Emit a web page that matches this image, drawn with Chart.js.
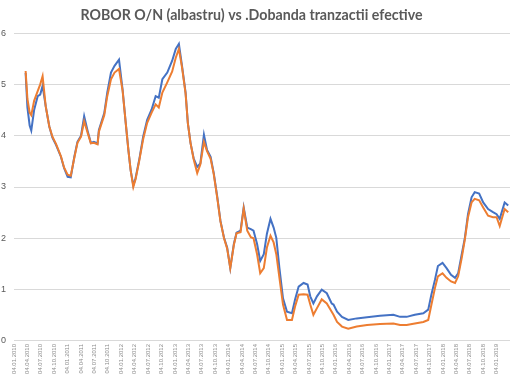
<!DOCTYPE html>
<html>
<head>
<meta charset="utf-8">
<script src="https://cdn.jsdelivr.net/npm/chart.js@4.4.1/dist/chart.umd.min.js"></script>
<style>
  html, body { margin: 0; padding: 0; background: #fff; overflow: hidden; }
  #wrap { position: absolute; left: -12px; top: 0; width: 522px; height: 380px; }
</style>
</head>
<body>
<div id="wrap"><canvas id="roborChart" width="522" height="380"></canvas></div>
<script>
const TITLE = 'ROBOR O/N (albastru) vs .Dobanda tranzactii efective';

// dates of the sampled points (dd.mm.yyyy)
const dates = [
    '22.03.2010','04.04.2010','19.04.2010','30.04.2010','19.05.2010','13.06.2010','30.06.2010','16.07.2010',
    '07.08.2010','31.08.2010','22.09.2010','16.10.2010','19.11.2010','10.12.2010','04.01.2011','25.01.2011',
    '19.02.2011','10.03.2011','04.04.2011','25.04.2011','22.05.2011','10.06.2011','30.06.2011','25.07.2011',
    '04.08.2011','10.09.2011','30.09.2011','25.10.2011','19.11.2011','19.12.2011','13.01.2012','04.02.2012',
    '22.02.2012','07.03.2012','25.03.2012','10.04.2012','04.05.2012','31.05.2012','28.06.2012','28.07.2012',
    '25.08.2012','16.09.2012','10.10.2012','13.11.2012','16.12.2012','10.01.2013','31.01.2013','22.02.2013',
    '16.03.2013','31.03.2013','19.04.2013','10.05.2013','04.06.2013','25.06.2013','19.07.2013','10.08.2013',
    '04.09.2013','25.09.2013','19.10.2013','10.11.2013','04.12.2013','25.12.2013','16.01.2014','10.02.2014',
    '28.02.2014','25.03.2014','16.04.2014','10.05.2014','04.06.2014','22.06.2014','16.07.2014','07.08.2014',
    '31.08.2014','22.09.2014','16.10.2014','07.11.2014','25.11.2014','16.12.2014','10.01.2015','07.02.2015',
    '10.03.2015','31.03.2015','25.04.2015','28.05.2015','25.06.2015','13.07.2015','04.08.2015','28.08.2015',
    '30.09.2015','04.11.2015','07.12.2015','19.12.2015','13.01.2016','16.02.2016','28.03.2016','25.05.2016',
    '04.08.2016','31.10.2016','31.01.2017','16.03.2017','30.04.2017','25.06.2017','22.08.2017','25.09.2017',
    '16.10.2017','10.11.2017','30.11.2017','31.12.2017','28.01.2018','28.02.2018','25.03.2018','16.04.2018',
    '10.05.2018','31.05.2018','22.06.2018','16.07.2018','07.08.2018','07.09.2018','04.10.2018','07.11.2018',
    '10.12.2018','04.01.2019','25.01.2019','28.02.2019','22.03.2019'
];

// ROBOR O/N (blue)
const robor = [
    5.22,4.55,4.20,4.10,4.50,4.77,4.80,4.97,
    4.57,4.18,3.96,3.82,3.59,3.37,3.20,3.19,
    3.59,3.88,4.00,4.38,4.05,3.86,3.88,3.85,
    4.11,4.44,4.84,5.23,5.36,5.48,4.90,4.25,
    3.72,3.33,3.03,3.17,3.52,3.98,4.31,4.51,
    4.77,4.74,5.10,5.23,5.46,5.69,5.79,5.36,
    4.84,4.25,3.86,3.56,3.39,3.46,4.02,3.72,
    3.59,3.27,2.80,2.34,2.01,1.82,1.42,1.89,
    2.11,2.15,2.60,2.21,2.18,2.15,1.89,1.56,
    1.69,2.09,2.38,2.21,2.01,1.42,0.83,0.57,
    0.54,0.81,1.06,1.13,1.10,0.87,0.73,0.87,
    1.00,0.93,0.73,0.71,0.57,0.47,0.41,0.44,
    0.46,0.49,0.51,0.47,0.47,0.51,0.54,0.61,
    0.90,1.19,1.46,1.52,1.42,1.29,1.23,1.32,
    1.69,2.01,2.47,2.80,2.90,2.87,2.70,2.57,
    2.51,2.47,2.38,2.70,2.64
];

// Dobanda tranzactii efective (orange)
const dobanda = [
    5.26,4.72,4.45,4.40,4.68,4.87,5.00,5.16,
    4.57,4.18,3.98,3.84,3.60,3.38,3.24,3.22,
    3.57,3.86,3.98,4.28,4.02,3.85,3.86,3.83,
    4.08,4.40,4.77,5.10,5.23,5.30,4.88,4.25,
    3.72,3.33,3.00,3.15,3.50,3.93,4.25,4.45,
    4.61,4.55,4.84,5.04,5.25,5.52,5.69,5.33,
    4.82,4.25,3.86,3.54,3.27,3.44,3.88,3.70,
    3.55,3.25,2.78,2.33,2.00,1.80,1.42,1.87,
    2.10,2.12,2.58,2.15,2.02,2.00,1.69,1.32,
    1.42,1.82,2.05,1.92,1.69,1.23,0.71,0.41,
    0.41,0.67,0.90,0.91,0.90,0.71,0.51,0.64,
    0.81,0.73,0.57,0.51,0.37,0.28,0.24,0.28,
    0.31,0.33,0.34,0.31,0.31,0.34,0.37,0.41,
    0.70,1.03,1.26,1.32,1.23,1.16,1.13,1.26,
    1.62,1.98,2.41,2.70,2.77,2.74,2.60,2.44,
    2.41,2.41,2.24,2.57,2.51
];

// quarterly axis labels
const tickLabels = [
    '04.01.2010','04.04.2010','04.07.2010','04.10.2010',
    '04.01.2011','04.04.2011','04.07.2011','04.10.2011',
    '04.01.2012','04.04.2012','04.07.2012','04.10.2012',
    '04.01.2013','04.04.2013','04.07.2013','04.10.2013',
    '04.01.2014','04.04.2014','04.07.2014','04.10.2014',
    '04.01.2015','04.04.2015','04.07.2015','04.10.2015',
    '04.01.2016','04.04.2016','04.07.2016','04.10.2016',
    '04.01.2017','04.04.2017','04.07.2017','04.10.2017',
    '04.01.2018','04.04.2018','04.07.2018','04.10.2018',
    '04.01.2019'
];
const AXIS_END = '04.04.2019';

// months since 04.01.2010
function toMonth(str) {
    const p = str.split('.');
    return (parseInt(p[2]) - 2010) * 12 + (parseInt(p[1]) - 1) + (parseInt(p[0]) - 4) / 30;
}

function toPoints(values) {
    return values.map((v, i) => ({ x: toMonth(dates[i]), y: v }));
}

const GRID = '#d9d9d9';
const TEXT = '#595959';

new Chart(document.getElementById('roborChart'), {
    type: 'line',
    data: {
        datasets: [
            {
                label: 'ROBOR O/N',
                data: toPoints(robor),
                borderColor: '#4472c4',
                borderWidth: 2,
                pointRadius: 0,
                order: 1
            },
            {
                label: 'Dobanda tranzactii efective',
                data: toPoints(dobanda),
                borderColor: '#ed7d31',
                borderWidth: 2,
                pointRadius: 0,
                order: 0
            }
        ]
    },
    options: {
        responsive: false,
        animation: false,
        layout: { padding: { left: 5, right: 0, top: 0, bottom: 3 } },
        plugins: {
            legend: { display: false },
            tooltip: { enabled: false },
            title: {
                display: true,
                text: TITLE,
                color: TEXT,
                font: { family: 'Lato', size: 14.2, weight: 'bold' },
                padding: { top: 7, bottom: 9 }
            }
        },
        scales: {
            x: {
                type: 'linear',
                min: 0,
                max: toMonth(AXIS_END),
                afterBuildTicks: (axis) => {
                    axis.ticks = tickLabels.map(l => ({ value: toMonth(l) }));
                },
                ticks: {
                    autoSkip: false,
                    minRotation: 90,
                    maxRotation: 90,
                    padding: 3,
                    color: '#8c8c8c',
                    font: { family: 'Liberation Sans', size: 6 },
                    callback: (value, index) => tickLabels[index]
                },
                grid: { display: false, drawTicks: false },
                border: { display: true, color: GRID }
            },
            y: {
                min: 0,
                max: 6,
                ticks: {
                    stepSize: 1,
                    padding: 8,
                    color: TEXT,
                    font: { family: 'Liberation Sans', size: 9 }
                },
                grid: { color: GRID, drawTicks: false },
                border: { display: false }
            }
        }
    }
});
</script>
</body>
</html>
